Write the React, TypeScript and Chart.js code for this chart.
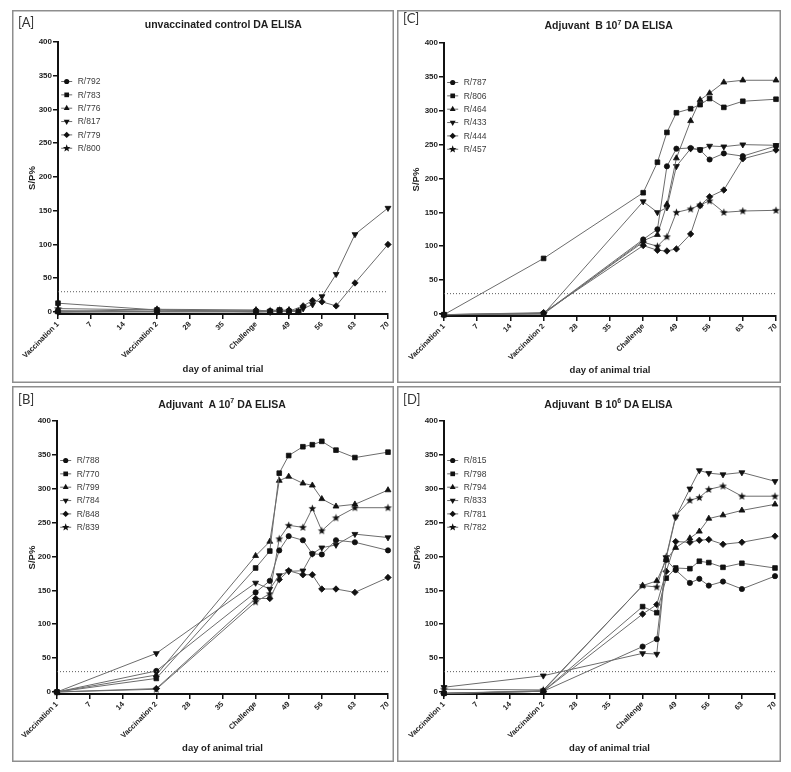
import React, { useEffect, useRef } from 'react';
import { Chart, registerables } from 'chart.js';

Chart.register(...registerables);

// ---------- shared axis data ----------
const xTickValues = [0, 7, 14, 21, 28, 35, 42, 49, 56, 63, 70];
const xTickLabels = ['Vaccination 1', '7', '14', 'Vaccination 2', '28', '35', 'Challenge', '49', '56', '63', '70'];
const yTickValues = [0, 50, 100, 150, 200, 250, 300, 350, 400];
const cutoffValue = 30;
const xAxisTitle = 'day of animal trial';
const yAxisTitle = 'S/P%';

const sampleDays = [0, 21, 42, 45, 47, 49, 52, 54, 56, 59, 63, 70];
const controlEarlyDays = [0, 21, 42, 45, 47, 49, 51];

const markerShapes = ['circle', 'square', 'triangle', 'invTriangle', 'diamond', 'star'];

// ---------- panel A: unvaccinated control ----------
const labelsA = ['R/792', 'R/783', 'R/776', 'R/817', 'R/779', 'R/800'];
const a792 = [2, 1, 2, 1, 2, 2, 0];
const a783 = [13, 3, 0, 1, 3, 1, 1];
const a776 = [0, 4, 3, 1, 2, 3, 0];
const a817 = [0, 0, 0, 0, 1, 0, 5, 11, 23, 56, 115, 154];
const a779 = [0, 1, 1, 1, 2, 1, 9, 17, 15, 9, 43, 100];
const a800 = [5, 3, 1, 2, 3, 2, 1];

// ---------- panel C: Adjuvant B 10^7 ----------
const labelsC = ['R/787', 'R/806', 'R/464', 'R/433', 'R/444', 'R/457'];
const c787 = [-1, 1, 110, 125, 218, 244, 245, 242, 228, 237, 233, 248];
const c806 = [-1, 82, 179, 224, 268, 297, 303, 309, 318, 305, 314, 317];
const c464 = [-1, 0, 108, 117, 162, 230, 285, 316, 326, 342, 345, 345];
const c433 = [-1, 0, 166, 150, 157, 218, 244, 243, 248, 247, 250, 249];
const c444 = [-1, 2, 101, 94, 93, 96, 118, 160, 173, 183, 229, 242];
const c457 = [-1, 1, 106, 100, 114, 150, 155, 161, 167, 150, 152, 153];

// ---------- panel B: Adjuvant A 10^7 ----------
const labelsB = ['R/788', 'R/770', 'R/799', 'R/784', 'R/848', 'R/839'];
const b788 = [0, 31, 147, 164, 209, 230, 224, 204, 203, 224, 221, 209];
const b770 = [0, 20, 183, 208, 323, 349, 362, 365, 370, 357, 346, 354];
const b799 = [0, 25, 201, 222, 312, 318, 308, 305, 285, 274, 277, 298];
const b784 = [0, 57, 161, 152, 172, 178, 179, 204, 213, 217, 233, 228];
const b848 = [0, 5, 138, 138, 166, 179, 173, 173, 152, 152, 147, 169];
const b839 = [0, 4, 133, 145, 226, 246, 243, 271, 238, 257, 272, 272];

// ---------- panel D: Adjuvant B 10^6 ----------
const labelsD = ['R/815', 'R/798', 'R/794', 'R/833', 'R/781', 'R/782'];
const d815 = [-2, 1, 67, 78, 195, 180, 161, 167, 157, 163, 152, 171];
const d798 = [-2, 1, 126, 117, 168, 183, 182, 193, 191, 184, 190, 183];
const d794 = [-2, 2, 157, 164, 195, 213, 227, 237, 256, 261, 268, 277];
const d833 = [7, 24, 57, 56, 198, 258, 300, 327, 323, 321, 324, 311];
const d781 = [-2, 1, 115, 129, 178, 222, 221, 224, 225, 218, 221, 230];
const d782 = [4, 3, 157, 155, 200, 260, 283, 287, 299, 304, 289, 289];

// ---------- styling ----------
const FONT = "'Liberation Sans', Arial, Helvetica, sans-serif";
const LINE_COLOR = '#6c6c6c';
const MARK_COLOR = '#111111';
const AXIS_COLOR = '#111111';
const TEXT_COLOR = '#1e1e1e';

const markerRadius: Record<string, number> = {
  circle: 2.6,
  square: 3.3,
  triangle: 3.4,
  invTriangle: 3.4,
  diamond: 3.2,
  star: 4,
};

function tracePath(ctx: CanvasRenderingContext2D, shape: string, x: number, y: number, r: number) {
  ctx.beginPath();
  if (shape === 'circle') {
    ctx.arc(x, y, r, 0, Math.PI * 2);
  } else if (shape === 'square') {
    const s = r * Math.SQRT1_2;
    ctx.rect(x - s, y - s, 2 * s, 2 * s);
  } else if (shape === 'triangle' || shape === 'invTriangle') {
    const rot = shape === 'invTriangle' ? Math.PI : 0;
    for (let k = 0; k < 3; k++) {
      const a = rot + (k * 2 * Math.PI) / 3;
      const px = x + Math.sin(a) * r;
      const py = y - Math.cos(a) * r;
      if (k === 0) ctx.moveTo(px, py);
      else ctx.lineTo(px, py);
    }
  } else if (shape === 'diamond') {
    ctx.moveTo(x, y - r);
    ctx.lineTo(x + r, y);
    ctx.lineTo(x, y + r);
    ctx.lineTo(x - r, y);
  } else if (shape === 'star') {
    for (let k = 0; k < 10; k++) {
      const a = (k * Math.PI) / 5;
      const rr = k % 2 ? r * 0.42 : r;
      const px = x + Math.sin(a) * rr;
      const py = y - Math.cos(a) * rr;
      if (k === 0) ctx.moveTo(px, py);
      else ctx.lineTo(px, py);
    }
  }
  ctx.closePath();
}

let starCanvas: HTMLCanvasElement | null = null;
function getStarImage() {
  if (!starCanvas) {
    const c = document.createElement('canvas');
    c.width = 9;
    c.height = 9;
    const ctx = c.getContext('2d')!;
    ctx.fillStyle = MARK_COLOR;
    tracePath(ctx, 'star', 4.5, 4.7, 4.1);
    ctx.fill();
    starCanvas = c;
  }
  return starCanvas;
}

function builtinStyle(shape: string): any {
  switch (shape) {
    case 'circle': return 'circle';
    case 'square': return 'rect';
    case 'triangle': return 'triangle';
    case 'invTriangle': return 'triangle';
    case 'diamond': return 'rectRot';
    default: return getStarImage();
  }
}

type SeriesDef = { label: string; days: number[]; values: number[] };
type PanelDef = {
  key: string;
  tag: string;
  titleBefore: string;
  titleSup: string;
  titleAfter: string;
  series: SeriesDef[];
  geom: {
    left: number; top: number; w: number; h: number;
    plotLeft: number; padRight: number; padTop: number; bottomGap: number;
    yTitleOffset: number; xTitleBottom: number;
    tagTop: number; tagLeft: number; titleTop: number; titleCenter: number;
  };
};

const panels: PanelDef[] = [
  {
    key: 'A', tag: '[A]', titleBefore: 'unvaccinated control DA ELISA', titleSup: '', titleAfter: '',
    series: [
      { label: labelsA[0], days: controlEarlyDays, values: a792 },
      { label: labelsA[1], days: controlEarlyDays, values: a783 },
      { label: labelsA[2], days: controlEarlyDays, values: a776 },
      { label: labelsA[3], days: sampleDays, values: a817 },
      { label: labelsA[4], days: sampleDays, values: a779 },
      { label: labelsA[5], days: controlEarlyDays, values: a800 },
    ],
    geom: { left: 4, top: 2, w: 382, h: 373, plotLeft: 46, padRight: 6, padTop: 32, bottomGap: 69,
      yTitleOffset: 20.5, xTitleBottom: 13.7, tagTop: 6, tagLeft: 6, titleTop: 9.4, titleCenter: 211.3 },
  },
  {
    key: 'C', tag: '[C]', titleBefore: 'Adjuvant  B 10', titleSup: '7', titleAfter: ' DA ELISA',
    series: [
      { label: labelsC[0], days: sampleDays, values: c787 },
      { label: labelsC[1], days: sampleDays, values: c806 },
      { label: labelsC[2], days: sampleDays, values: c464 },
      { label: labelsC[3], days: sampleDays, values: c433 },
      { label: labelsC[4], days: sampleDays, values: c444 },
      { label: labelsC[5], days: sampleDays, values: c457 },
    ],
    geom: { left: 389, top: 2, w: 384, h: 373, plotLeft: 47, padRight: 5, padTop: 33, bottomGap: 67,
      yTitleOffset: 19.5, xTitleBottom: 12.3, tagTop: 2, tagLeft: 6, titleTop: 10.4, titleCenter: 211.7 },
  },
  {
    key: 'B', tag: '[B]', titleBefore: 'Adjuvant  A 10', titleSup: '7', titleAfter: ' DA ELISA',
    series: [
      { label: labelsB[0], days: sampleDays, values: b788 },
      { label: labelsB[1], days: sampleDays, values: b770 },
      { label: labelsB[2], days: sampleDays, values: b799 },
      { label: labelsB[3], days: sampleDays, values: b784 },
      { label: labelsB[4], days: sampleDays, values: b848 },
      { label: labelsB[5], days: sampleDays, values: b839 },
    ],
    geom: { left: 4, top: 378, w: 382, h: 376, plotLeft: 45, padRight: 6, padTop: 35, bottomGap: 68,
      yTitleOffset: 20.5, xTitleBottom: 13.7, tagTop: 7, tagLeft: 6, titleTop: 12.8, titleCenter: 210 },
  },
  {
    key: 'D', tag: '[D]', titleBefore: 'Adjuvant  B 10', titleSup: '6', titleAfter: ' DA ELISA',
    series: [
      { label: labelsD[0], days: sampleDays, values: d815 },
      { label: labelsD[1], days: sampleDays, values: d798 },
      { label: labelsD[2], days: sampleDays, values: d794 },
      { label: labelsD[3], days: sampleDays, values: d833 },
      { label: labelsD[4], days: sampleDays, values: d781 },
      { label: labelsD[5], days: sampleDays, values: d782 },
    ],
    geom: { left: 389, top: 378, w: 384, h: 376, plotLeft: 47, padRight: 6, padTop: 35, bottomGap: 68,
      yTitleOffset: 20, xTitleBottom: 13.7, tagTop: 7, tagLeft: 6, titleTop: 12.8, titleCenter: 211.5 },
  },
];

const insideLegendPlugin = {
  id: 'insideLegend',
  afterDraw(chart: any) {
    const { ctx, chartArea } = chart;
    const entries = chart.data.datasets.filter((d: any) => d.markerShape);
    ctx.save();
    entries.forEach((d: any, i: number) => {
      const cy = chartArea.top + 39.5 + i * 13.35;
      const cx = chartArea.left + 8.7;
      ctx.strokeStyle = LINE_COLOR;
      ctx.lineWidth = 1;
      ctx.setLineDash([]);
      ctx.beginPath();
      ctx.moveTo(cx - 5.5, cy);
      ctx.lineTo(cx + 5.5, cy);
      ctx.stroke();
      ctx.fillStyle = MARK_COLOR;
      const r = d.markerShape === 'star' ? 4 : markerRadius[d.markerShape];
      tracePath(ctx, d.markerShape, cx, cy, r);
      ctx.fill();
      ctx.fillStyle = '#3a3a3a';
      ctx.font = `8.5px ${FONT}`;
      ctx.textBaseline = 'middle';
      ctx.textAlign = 'left';
      ctx.fillText(d.label, chartArea.left + 19.7, cy + 0.5);
    });
    ctx.restore();
  },
};

function buildConfig(p: PanelDef): any {
  const g = p.geom;
  const datasets: any[] = [
    {
      label: '',
      data: [{ x: xTickValues[0], y: cutoffValue }, { x: xTickValues[xTickValues.length - 1], y: cutoffValue }],
      borderColor: '#5a5a5a',
      borderWidth: 1,
      borderDash: [1, 2],
      pointRadius: 0,
      clip: false,
    },
  ];
  p.series.forEach((s, i) => {
    const shape = markerShapes[i];
    datasets.push({
      label: s.label,
      markerShape: shape,
      data: s.days.map((d, j) => ({ x: d, y: s.values[j] })),
      borderColor: LINE_COLOR,
      borderWidth: 1,
      tension: 0,
      clip: false,
      pointStyle: builtinStyle(shape),
      pointRotation: shape === 'invTriangle' ? 180 : 0,
      pointRadius: markerRadius[shape],
      pointBackgroundColor: MARK_COLOR,
      pointBorderColor: MARK_COLOR,
      pointBorderWidth: 0.8,
    });
  });

  return {
    type: 'line',
    data: { datasets },
    plugins: [insideLegendPlugin],
    options: {
      animation: false,
      responsive: false,
      events: [],
      layout: { padding: { top: g.padTop, right: g.padRight, left: 0, bottom: 0 } },
      plugins: {
        legend: { display: false },
        tooltip: { enabled: false },
        title: { display: false },
      },
      scales: {
        x: {
          type: 'linear',
          min: 0,
          max: 70,
          afterBuildTicks: (s: any) => { s.ticks = xTickValues.map((v) => ({ value: v })); },
          afterFit: (s: any) => { s.height = g.bottomGap; s.paddingLeft = 0; s.paddingRight = 0; },
          ticks: {
            autoSkip: false,
            minRotation: 45,
            maxRotation: 45,
            padding: 1,
            color: TEXT_COLOR,
            font: { family: FONT, size: 7.5, weight: 'bold' },
            callback: (_v: any, i: number) => xTickLabels[i],
          },
          grid: { drawOnChartArea: false, drawTicks: true, tickLength: 5, color: AXIS_COLOR, lineWidth: 1.5 },
          border: { display: true, color: AXIS_COLOR, width: 2 },
          title: {
            display: true,
            text: xAxisTitle,
            color: TEXT_COLOR,
            font: { family: FONT, size: 9.5, weight: 'bold' },
            padding: { top: 0, bottom: g.xTitleBottom - 5.7 },
          },
        },
        y: {
          type: 'linear',
          min: -3,
          max: 400,
          afterBuildTicks: (s: any) => { s.ticks = yTickValues.map((v) => ({ value: v })); },
          afterFit: (s: any) => { s.width = g.plotLeft; s.paddingTop = 0; s.paddingBottom = 0; },
          ticks: {
            padding: 1,
            color: TEXT_COLOR,
            font: { family: FONT, size: 8, weight: 'bold' },
          },
          grid: { drawOnChartArea: false, drawTicks: true, tickLength: 5, color: AXIS_COLOR, lineWidth: 1.5 },
          border: { display: true, color: AXIS_COLOR, width: 2 },
          title: {
            display: true,
            text: yAxisTitle,
            color: TEXT_COLOR,
            font: { family: FONT, size: 9.5, weight: 'bold' },
            padding: { top: g.yTitleOffset - 5.7, bottom: 0 },
          },
        },
      },
    },
  };
}

function Panel({ p }: { p: PanelDef }) {
  const ref = useRef<HTMLCanvasElement>(null);
  const g = p.geom;
  useEffect(() => {
    if (!ref.current) return;
    const chart = new Chart(ref.current, buildConfig(p));
    return () => chart.destroy();
  }, [p]);
  return (
    <div
      style={{
        position: 'absolute',
        left: g.left,
        top: g.top,
        width: g.w,
        height: g.h,
        boxShadow: 'inset 0 0 0 1.5px #8e8e8e',
        background: '#fff',
      }}
    >
      <canvas ref={ref} width={g.w} height={g.h} style={{ position: 'absolute', left: 0, top: 0 }} />
      <div
        style={{
          position: 'absolute',
          left: g.tagLeft,
          top: g.tagTop,
          fontFamily: "Lato, 'Open Sans', sans-serif",
          fontSize: '13px',
          lineHeight: '13px',
          color: '#333',
        }}
      >
        {p.tag}
      </div>
      <div
        style={{
          position: 'absolute',
          left: g.titleCenter - 150,
          width: 300,
          top: g.titleTop,
          textAlign: 'center',
          fontFamily: FONT,
          fontWeight: 'bold',
          fontSize: '10.5px',
          lineHeight: '10.5px',
          whiteSpace: 'pre',
          color: TEXT_COLOR,
        }}
      >
        {p.titleBefore}
        {p.titleSup ? (
          <span style={{ fontSize: '7px', position: 'relative', top: '-4.5px' }}>{p.titleSup}</span>
        ) : null}
        {p.titleAfter}
      </div>
    </div>
  );
}

export default function App() {
  return (
    <div style={{ position: 'relative', width: 775, height: 756, background: '#fff' }}>
      {panels.map((p) => (
        <Panel key={p.key} p={p} />
      ))}
    </div>
  );
}
